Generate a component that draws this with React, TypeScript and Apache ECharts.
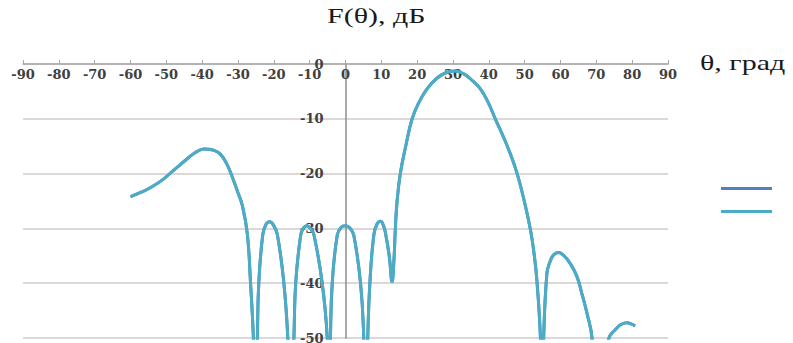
import React, { useEffect, useRef } from "react";
import * as echarts from "echarts";

// angle (deg) and pattern level (dB)
const thetaDeg: number[] = [
  -60, -57, -54, -51, -48.5, -46, -44, -42, -39.5, -37, -35, -33, -31.5, -30, -28.8, -27.4, -26.5, -25.7, -25.1,
  -24.6, -24.2, -23.1, -22.2, -21.2, -20.1, -19, -17.2, -16.1, -15.3,
  -14.4, -13.9, -12.5, -11.7, -10.8, -9.8, -8.8, -6.5, -5.1, -4.6,
  -4.2, -3.7, -2.3, -1.2, 0, 1.2, 2.3, 4.2, 5.1, 5.6,
  6.2, 6.8, 7.9, 8.8, 9.8, 10.6, 11.2, 12.2, 13, 13.5, 13.9, 14.4, 15.3, 16.8, 18.6, 20.5, 22.8, 25.5, 28, 30.5,
  33, 35.5, 37.6, 39.8, 41.8, 44, 46, 47.9, 49.7, 51.6, 52.6, 53.4, 54.4, 54.9,
  55.3, 56.2, 57, 58.1, 59.5, 61, 62.8, 64.6, 66, 67.4, 68.8, 71,
  73.4, 75.7, 77, 78.5, 80, 80.8,
];
const levelDb: number[] = [
  -24.2, -23.4, -22.4, -21.1, -19.7, -18.3, -17.2, -16.2, -15.5, -15.7, -16.4, -18.4, -20.8, -23.5, -25.8, -31, -40, -50, -65,
  -50, -40, -31.2, -29.3, -28.8, -29.4, -31.2, -40, -50, -65,
  -50, -40, -31.2, -29.9, -29.5, -30, -31.2, -40, -50, -65,
  -50, -40, -31.2, -29.8, -29.5, -29.9, -31.2, -40, -50, -65,
  -50, -40, -31.2, -29.2, -28.7, -29.5, -31, -35, -39.7, -36, -30.2, -25, -20, -15, -10, -7, -4.5, -2.6, -1.6, -1.3,
  -1.8, -3.1, -4.5, -7, -10, -13.2, -16.4, -20, -24.5, -30.2, -34.5, -39.4, -50, -65,
  -50, -38.2, -36.2, -34.8, -34.4, -35, -36.5, -38.8, -42, -45.5, -50, -70,
  -50.3, -48.2, -47.5, -47.2, -47.5, -47.8,
];
const seriesNames: string[] = ["1", "2"];
const seriesColors: string[] = ["#4F81BD", "#4BACC6"];
const yTitle = "F(θ), дБ";
const xTitle = "θ, град";

const GRID_LEFT = 23;
const GRID_WIDTH = 645;

export default function App() {
  const ref = useRef<HTMLDivElement>(null);
  useEffect(() => {
    if (!ref.current) return;
    const chart = echarts.init(ref.current, null, { renderer: "svg" });
    const pts = thetaDeg.map((t, i) => [t, levelDb[i]]);
    chart.setOption({
      animation: false,
      backgroundColor: "#ffffff",
      grid: {
        left: GRID_LEFT,
        width: GRID_WIDTH,
        top: 64,
        bottom: 5,
        containLabel: false,
        outerBoundsMode: "none",
      },
      xAxis: {
        type: "value",
        min: -90,
        max: 90,
        interval: 10,
        position: "top",
        axisLine: { onZero: false, lineStyle: { color: "#a6a6a6", width: 1.5 } },
        axisTick: { show: true, inside: false, length: 4, lineStyle: { color: "#a6a6a6" } },
        axisLabel: {
          inside: true,
          margin: 4,
          color: "#404040",
          fontFamily: "DejaVu Serif",
          fontWeight: "bold",
          fontSize: 13,
        },
        splitLine: { show: false },
      },
      yAxis: {
        type: "value",
        min: -50,
        max: 0,
        interval: 10,
        position: "left",
        offset: -GRID_WIDTH / 2,
        axisLine: { show: true, onZero: false, lineStyle: { color: "#8c8c8c", width: 1.5 } },
        axisTick: { show: false },
        axisLabel: {
          margin: 22,
          color: "#404040",
          fontFamily: "DejaVu Serif",
          fontWeight: "bold",
          fontSize: 13,
        },
        splitLine: { show: true, lineStyle: { color: "#d3caca", width: 1.5 } },
      },
      legend: {
        orient: "vertical",
        left: 716,
        top: 182,
        itemWidth: 51,
        itemHeight: 3,
        itemGap: 20,
        icon: "rect",
        formatter: () => "",
        textStyle: { fontSize: 12 },
        data: seriesNames,
      },
      series: seriesNames.map((name, k) => ({
        name,
        type: "line",
        data: pts,
        showSymbol: false,
        smooth: 0.45,
        clip: true,
        color: seriesColors[k],
        lineStyle: { color: seriesColors[k], width: 3 },
        z: 2 + k,
      })),
      graphic: [
        {
          type: "text",
          x: 327,
          y: 6,
          scaleX: 1.5,
          style: {
            text: yTitle,
            font: '20px "Liberation Serif"',
            fill: "#1a1a1a",
            textAlign: "left",
            textVerticalAlign: "top",
          },
        },
        {
          type: "text",
          x: 700,
          y: 53,
          scaleX: 1.5,
          style: {
            text: xTitle,
            font: '20px "Liberation Serif"',
            fill: "#1a1a1a",
            textAlign: "left",
            textVerticalAlign: "top",
          },
        },
      ],
    });
    return () => chart.dispose();
  }, []);
  return (
    <div
      ref={ref}
      style={{ position: "fixed", left: 0, top: 0, width: 793, height: 343 }}
    />
  );
}
